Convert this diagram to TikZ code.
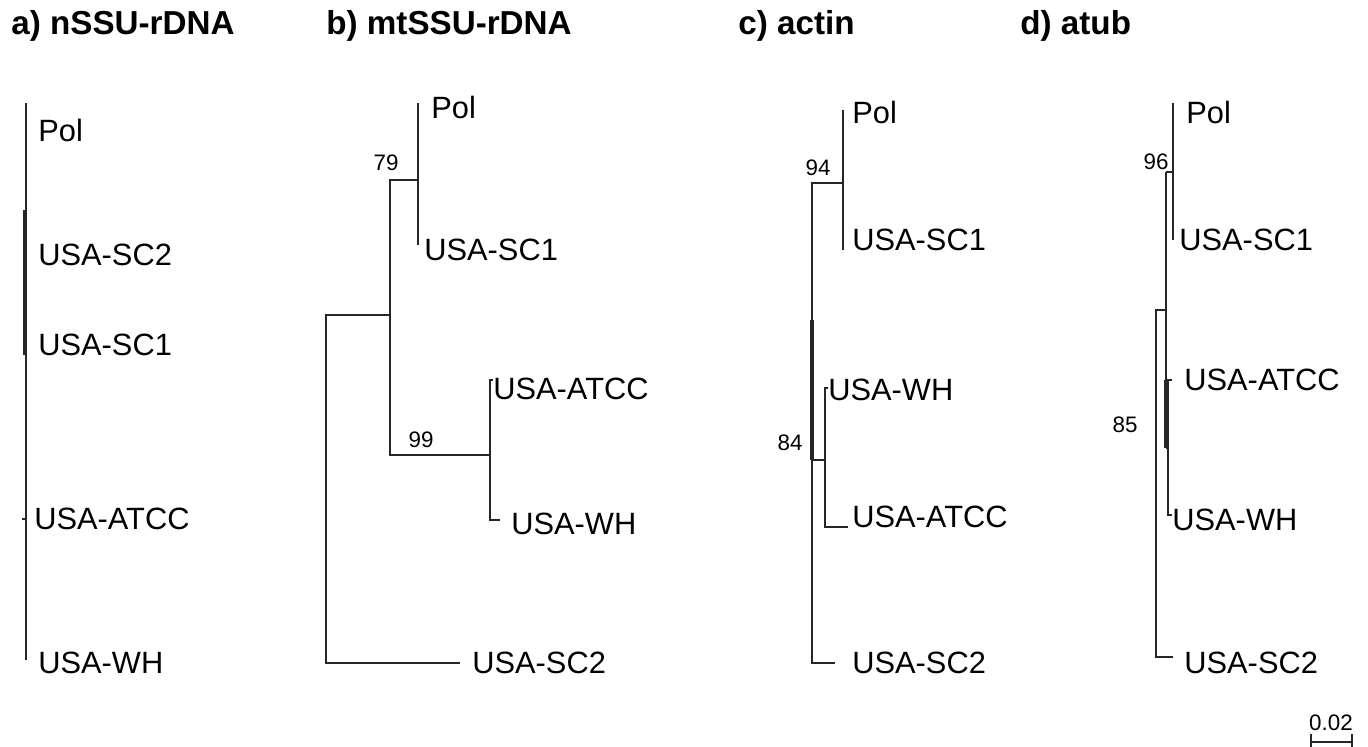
\documentclass[tikz,border=0pt]{standalone}
\usepackage{fontspec}
\setmainfont{Liberation Sans}
\usetikzlibrary{positioning}

\begin{document}
\begin{tikzpicture}[
  x=0.5pt, y=-0.5pt,
  br/.style={draw=black!85, line width=1pt},
  brthick/.style={draw=black!85, line width=2.2pt},
  tip/.style={anchor=west, inner sep=0pt, font=\fontsize{15.4}{18}\selectfont},
  boot/.style={inner sep=0pt, font=\fontsize{11.2}{13}\selectfont},
  ttl/.style={anchor=west, inner sep=0pt, font=\fontsize{16.6}{19}\selectfont\bfseries}
]
\useasboundingbox (0,0) rectangle (1368,747);

% Panel titles
\node[ttl] (ta) at (11,26)   {a) nSSU-rDNA};
\node[ttl] (tb) at (326,26)  {b) mtSSU-rDNA};
\node[ttl] (tc) at (738,26)  {c) actin};
\node[ttl] (td) at (1020,26) {d) atub};

% a) star tree, all branches near zero
\coordinate (aPol)  at (26,103);
\coordinate (aWH)   at (26,660);
\coordinate (aSC2)  at (25,210);
\coordinate (aSC1)  at (25,355);
\coordinate (aATCC) at (26,519);
\draw[br] (aPol) -- (aWH);
\draw[brthick] (aSC2) -- (aSC1);
\draw[br] (aATCC) -- ++(-4,0);
\node[tip] (laPol)  at (38,130) {Pol};
\node[tip] (laSC2)  at (38,255) {USA-SC2};
\node[tip] (laSC1)  at (38,345) {USA-SC1};
\node[tip] (laATCC) at (34,519) {USA-ATCC};
\node[tip] (laWH)   at (38,663) {USA-WH};

% b) mtSSU-rDNA
\coordinate (broot) at (326,315);
\coordinate (bin)   at (390,315);
\coordinate (b79)   at (418,180);
\coordinate (b99)   at (490,455);
\coordinate (bPol)  at (418,103);
\coordinate (bSC1)  at (418,245);
\coordinate (bATCC) at (493,380);
\coordinate (bWH)   at (500,520);
\coordinate (bSC2)  at (460,663);
\draw[br] (bSC2) -| (broot) -- (bin);
\draw[br] (b79) -| (bin) |- (b99);
\draw[br] (bPol) -- (bSC1);
\draw[br] (bATCC) -| (b99) |- (bWH);
\node[boot] (n79) at (386,163) {79};
\node[boot] (n99) at (421,440) {99};
\node[tip] (lbPol)  at (431,107) {Pol};
\node[tip] (lbSC1)  at (424,250) {USA-SC1};
\node[tip] (lbATCC) at (493,389) {USA-ATCC};
\node[tip] (lbWH)   at (511,524) {USA-WH};
\node[tip] (lbSC2)  at (472,663) {USA-SC2};

% c) actin
\coordinate (croot) at (812,183);
\coordinate (c94)   at (843,183);
\coordinate (cPol)  at (843,110);
\coordinate (cSC1)  at (843,250);
\coordinate (cthk)  at (812,320);
\coordinate (cjoin) at (812,460);
\coordinate (c84)   at (825,460);
\coordinate (cWH)   at (828,388);
\coordinate (cATCC) at (848,527);
\coordinate (cSC2)  at (835,663);
\draw[br] (cPol) -- (cSC1);
\draw[br] (c94) -- (croot) |- (cSC2);
\draw[brthick] (cthk) -- (cjoin);
\draw[br] (cjoin) -- (c84);
\draw[br] (cWH) -| (c84) |- (cATCC);
\node[boot] (n94) at (818,168) {94};
\node[boot] (n84) at (790,443) {84};
\node[tip] (lcPol)  at (852,112) {Pol};
\node[tip] (lcSC1)  at (852,240) {USA-SC1};
\node[tip] (lcWH)   at (828,390) {USA-WH};
\node[tip] (lcATCC) at (852,517) {USA-ATCC};
\node[tip] (lcSC2)  at (852,663) {USA-SC2};

% d) atub
\coordinate (droot) at (1156,310);
\coordinate (djoin) at (1166,310);
\coordinate (dup)   at (1166,172);
\coordinate (ddown) at (1166,448);
\coordinate (d96)   at (1173,172);
\coordinate (dPol)  at (1173,103);
\coordinate (dSC1)  at (1173,240);
\coordinate (d85)   at (1168,448);
\coordinate (dATCC) at (1172,380);
\coordinate (dWH)   at (1172,515);
\coordinate (dSC2)  at (1173,657);
\draw[br] (djoin) -- (droot) |- (dSC2);
\draw[br] (dup) -- (ddown);
\draw[br] (dup) -- (d96);
\draw[br] (dPol) -- (dSC1);
\draw[br] (ddown) -- (d85);
\draw[br] (dATCC) -| (d85) |- (dWH);
\draw[brthick] (dATCC -| ddown) -- (ddown);
\node[boot] (n96) at (1156,162) {96};
\node[boot] (n85) at (1125,425) {85};
\node[tip] (ldPol)  at (1186,112) {Pol};
\node[tip] (ldSC1)  at (1179,240) {USA-SC1};
\node[tip] (ldATCC) at (1184,380) {USA-ATCC};
\node[tip] (ldWH)   at (1172,520) {USA-WH};
\node[tip] (ldSC2)  at (1184,663) {USA-SC2};

% scale bar
\coordinate (sL) at (1311,742);
\coordinate (sR) at (1352,742);
\draw[br] (sL) -- (sR);
\draw[br] ([yshift=-4]sL) -- ([yshift=4]sL);
\draw[br] ([yshift=-4]sR) -- ([yshift=4]sR);
\node[boot] (nscale) at (1331,723) {0.02};
\end{tikzpicture}
\end{document}
